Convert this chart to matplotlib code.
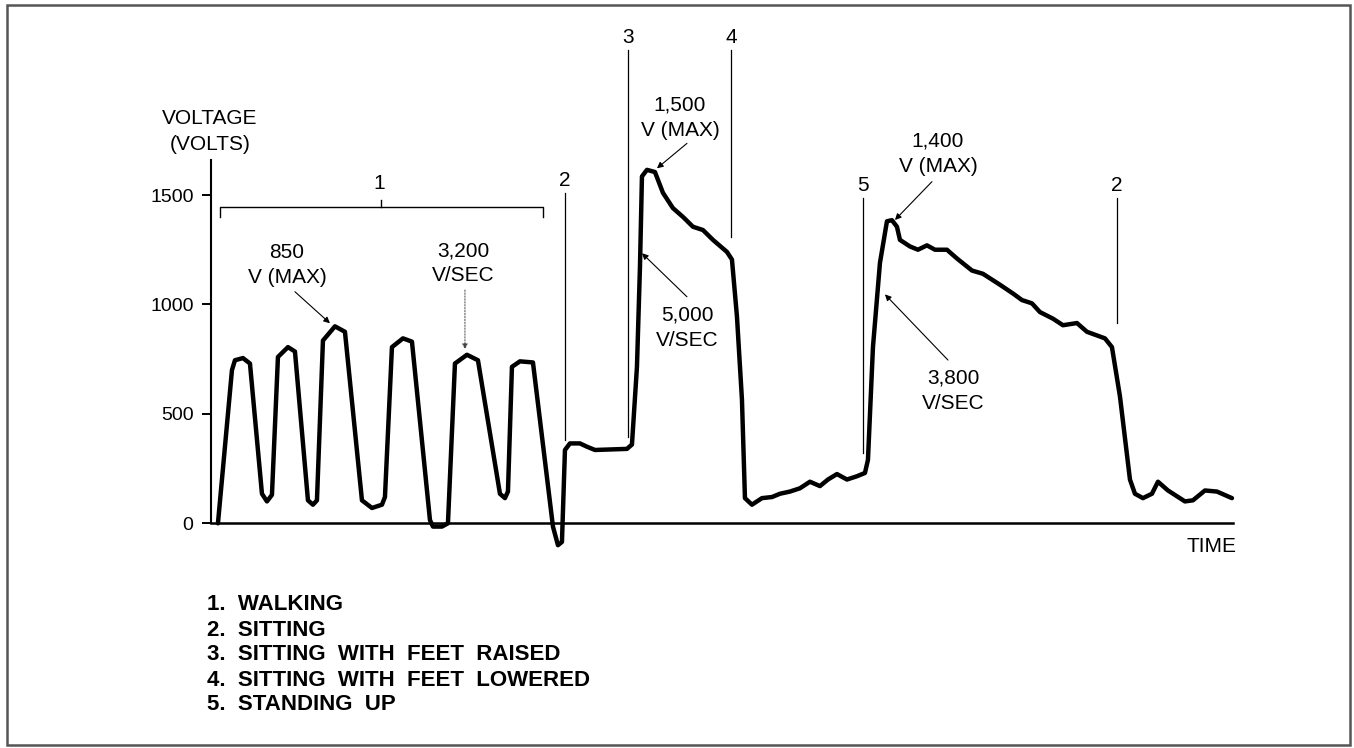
import matplotlib.pyplot as plt
from matplotlib.patches import Rectangle

plt.rcParams["font.family"] = ["Liberation Sans", "DejaVu Sans"]

# trace of the recorded voltage (arbitrary time units, volts)
time = [0.7, 2.1, 2.4, 3.2, 3.9, 5.1, 5.6, 6.1, 6.7, 7.7, 8.4, 9.7, 10.2, 10.6,
        11.2, 12.4, 13.4, 15.1, 16.1, 17.1, 17.4, 18.1, 19.2, 20.1, 21.9, 22.2,
        23.1, 23.7, 24.4, 25.6, 26.7, 28.9, 29.4, 29.7, 30.1, 30.9, 32.2, 34.2,
        34.7, 35.1, 35.4, 35.9, 36.9, 37.6, 38.4, 41.6, 42.1, 42.6, 42.9, 43.1,
        43.6, 44.4, 45.2, 46.2, 47.2, 48.2, 49.2, 50.2, 51.6, 52.1, 52.6, 53.1,
        53.4, 54.1, 55.1, 56.1, 56.9, 57.9, 58.9, 59.9, 60.9, 61.7, 62.6, 63.6,
        64.6, 65.4, 65.7, 66.2, 66.9, 67.6, 68.1, 68.6, 68.9, 69.9, 70.7, 71.6,
        72.4, 73.6, 74.6, 76.1, 77.2, 78.9, 80.2, 81.1, 82.1, 82.9, 84.2, 85.2,
        86.6, 87.6, 89.4, 90.1, 90.9, 91.9, 92.4, 93.2, 94.1, 94.7, 95.7, 97.4,
        98.2, 99.4, 100.6, 102.1]
voltage = [0, 700, 745, 755, 730, 135, 100, 130, 760, 805, 785, 105, 85, 105,
           835, 900, 875, 105, 70, 85, 120, 805, 845, 830, 15, -15,
           -15, 0, 730, 770, 745, 135, 115, 145, 715, 740, 735, -15,
           -100, -85, 335, 365, 365, 350, 335, 340, 360, 715, 1170, 1585,
           1615, 1605, 1510, 1440, 1400, 1355, 1340, 1295, 1240, 1205, 945, 565,
           115, 85, 115, 120, 135, 145, 160, 190, 170, 200, 225, 200,
           215, 230, 290, 805, 1190, 1380, 1385, 1355, 1295, 1265, 1250, 1270,
           1250, 1250, 1210, 1155, 1140, 1090, 1050, 1020, 1005, 965, 935, 905,
           915, 875, 845, 805, 580, 200, 135, 115, 135, 190, 150, 100,
           105, 150, 145, 115]

yticks = [0, 500, 1000, 1500]

# activity change markers
event_labels = ["2", "3", "4", "5", "2"]
event_times = [35.4, 41.7, 52.0, 65.2, 90.6]
event_low = [380, 396, 1310, 320, 914]
event_high = [1508, 2162, 2162, 1485, 1485]

walking_span = [0.9, 33.2]

legend_items = [
    "1.  WALKING",
    "2.  SITTING",
    "3.  SITTING  WITH  FEET  RAISED",
    "4.  SITTING  WITH  FEET  LOWERED",
    "5.  STANDING  UP",
]

FS = 15

fig = plt.figure(figsize=(13.54, 7.48), dpi=100, facecolor="white")
ax = fig.add_axes([0.1558, 0.3004, 0.7548, 0.4857])

ax.plot(time, voltage, color="black", lw=3.2, solid_joinstyle="round",
        solid_capstyle="round", clip_on=False, zorder=3)

ax.set_xlim(0, 102.2)
ax.set_ylim(0, 1660)
ax.set_xticks([])
ax.set_yticks(yticks)
ax.tick_params(axis="y", length=6.5, width=1.4, pad=6, labelsize=14)
for side in ["top", "right"]:
    ax.spines[side].set_visible(False)
ax.spines["left"].set_linewidth(1.5)
ax.spines["bottom"].set_linewidth(1.8)

# event marker lines and labels
for lab, t, lo, hi in zip(event_labels, event_times, event_low, event_high):
    ax.plot([t, t], [lo, hi], color="black", lw=0.9, clip_on=False)
    ax.text(t, hi + 58, lab, ha="center", va="center", fontsize=FS,
            clip_on=False)

# bracket over walking section
x0, x1 = walking_span
xm = (x0 + x1) / 2
ax.plot([x0, x0, x1, x1], [1401, 1447, 1447, 1401], color="black", lw=1.0,
        clip_on=False)
ax.plot([xm, xm], [1447, 1477], color="black", lw=1.0, clip_on=False)
ax.text(xm - 0.2, 1553, "1", ha="center", va="center", fontsize=FS)

arrow = dict(arrowstyle="-|>", color="black", lw=0.8, mutation_scale=9,
             shrinkA=0, shrinkB=0)
notes = [
    ("850\nV (MAX)", (7.6, 1180), (8.4, 1058), (11.9, 914)),
    ("1,500\nV (MAX)", (46.9, 1852), (47.6, 1736), (44.6, 1622)),
    ("5,000\nV/SEC", (47.6, 895), (47.6, 1035), (43.1, 1234)),
    ("1,400\nV (MAX)", (72.7, 1687), (72.1, 1561), (68.4, 1386)),
    ("3,800\nV/SEC", (74.2, 604), (73.7, 746), (67.4, 1046)),
]
for txt, pos, start, tip in notes:
    ax.text(pos[0], pos[1], txt, ha="center", va="center", fontsize=FS,
            linespacing=1.42, clip_on=False)
    ax.annotate("", xy=tip, xytext=start, arrowprops=arrow)

ax.text(25.2, 1188, "3,200\nV/SEC", ha="center", va="center", fontsize=FS,
        linespacing=1.42)
ax.annotate("", xy=(25.4, 795), xytext=(25.4, 1066),
            arrowprops=dict(arrowstyle="-|>", color="#444444", lw=0.7,
                            linestyle=(0, (1.5, 1.5)), mutation_scale=8,
                            shrinkA=0, shrinkB=0))

fig.text(0.1551, 0.824, "VOLTAGE\n(VOLTS)", ha="center", va="center",
         fontsize=FS, linespacing=1.42)
fig.text(0.9135, 0.269, "TIME", ha="right", va="center", fontsize=FS)

for i, item in enumerate(legend_items):
    fig.text(0.1527, 1 - (605 + 25 * i) / 748, item, ha="left", va="center",
             fontsize=16, fontweight="bold")

fig.patches.append(Rectangle((7 / 1354, 3 / 748), 1343 / 1354, 740 / 748,
                             transform=fig.transFigure, fill=False,
                             edgecolor="#555555", lw=1.8))

fig.savefig("out.png", dpi=100, facecolor="white")
